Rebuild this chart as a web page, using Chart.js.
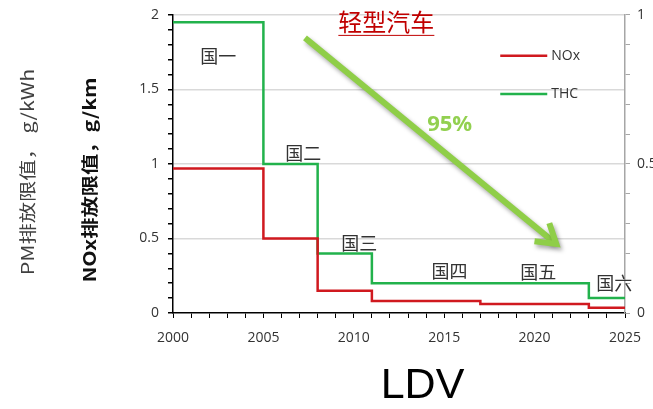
<!DOCTYPE html>
<html>
<head>
<meta charset="utf-8">
<script src="https://cdn.jsdelivr.net/npm/chart.js@4.4.1/dist/chart.umd.min.js"></script>
<style>
  html, body { margin: 0; padding: 0; background: #fff; }
  canvas { display: block; }
</style>
</head>
<body>
<canvas id="c" width="653" height="409"></canvas>
<script>
// Light-duty vehicle emission limits, China stage 1 .. stage 6
const stageYears = [2000, 2005, 2008, 2011, 2017, 2023];
const endYear = 2025;
const noxLimits = [0.97, 0.5, 0.15, 0.08, 0.06, 0.035];
const thcLimits = [1.95, 1.0, 0.4, 0.2, 0.2, 0.1];
const stageNames = ['国一', '国二', '国三', '国四', '国五', '国六'];
const leftTickLabels = [0, 0.5, 1, 1.5, 2];
const rightTickLabels = [0, 0.5, 1];
const yearTickLabels = [2000, 2005, 2010, 2015, 2020, 2025];
const reductionText = '95%';

const RED = '#d0191f';
const GREEN = '#22b24c';
const ARROW_GREEN = '#8fce48';

// Each stage value holds from its start year until the next stage begins
function stepPoints(values) {
  const pts = stageYears.map((yr, i) => ({ x: yr, y: values[i] }));
  pts.push({ x: endYear, y: values[values.length - 1] });
  return pts;
}

const near = (v, list) => list.some(t => Math.abs(v - t) < 1e-6);

// Where the text notes sit, in axis units (year, left-axis value)
const stageNameAnchors = [[2002.5, 1.72], [2007.2, 1.074], [2010.3, 0.47], [2015.3, 0.28], [2020.2, 0.275], [2024.4, 0.2]];
const arrowFrom = [2007.3, 1.846];
const arrowTo = [2021.2, 0.463];

// Rotated title, stretched along its reading direction
function verticalTitle(ctx, text, cx, cy, font, color) {
  ctx.save();
  ctx.translate(cx, cy);
  ctx.rotate(-Math.PI / 2);
  ctx.scale(1.25, 1);
  ctx.font = font;
  ctx.fillStyle = color;
  ctx.textAlign = 'center';
  ctx.textBaseline = 'middle';
  ctx.fillText(text, 0, 0);
  ctx.restore();
}

const notes = {
  id: 'notes',
  afterDraw(chart) {
    const { ctx, scales: { x, y } } = chart;
    const px = v => x.getPixelForValue(v);
    const py = v => y.getPixelForValue(v);
    ctx.save();

    // stage names
    ctx.font = '18px "Noto Sans CJK SC"';
    ctx.fillStyle = '#333';
    ctx.textAlign = 'center';
    ctx.textBaseline = 'middle';
    stageNames.forEach((s, i) => {
      ctx.fillText(s, px(stageNameAnchors[i][0]), py(stageNameAnchors[i][1]));
    });

    // heading with underline
    ctx.font = '24px "Noto Sans CJK SC"';
    ctx.fillStyle = '#c00000';
    const hx = px(2011.8), hy = py(1.953);
    ctx.fillText('轻型汽车', hx, hy);
    const hw = ctx.measureText('轻型汽车').width;
    ctx.strokeStyle = '#c00000';
    ctx.lineWidth = 1;
    ctx.beginPath();
    ctx.moveTo(hx - hw / 2, hy + 13.5);
    ctx.lineTo(hx + hw / 2, hy + 13.5);
    ctx.stroke();

    // reduction arrow
    const x0 = px(arrowFrom[0]), y0 = py(arrowFrom[1]);
    const x1 = px(arrowTo[0]), y1 = py(arrowTo[1]);
    const ang = Math.atan2(y1 - y0, x1 - x0);
    const head = 22, spread = 0.56;
    ctx.shadowColor = 'rgba(0,0,0,0.35)';
    ctx.shadowBlur = 4;
    ctx.shadowOffsetX = 2;
    ctx.shadowOffsetY = 3;
    ctx.strokeStyle = ARROW_GREEN;
    ctx.lineWidth = 6;
    ctx.lineCap = 'butt';
    ctx.lineJoin = 'miter';
    ctx.beginPath();
    ctx.moveTo(x0, y0);
    ctx.lineTo(x1 - 3 * Math.cos(ang), y1 - 3 * Math.sin(ang));
    ctx.stroke();
    ctx.beginPath();
    ctx.moveTo(x1 - head * Math.cos(ang - spread), y1 - head * Math.sin(ang - spread));
    ctx.lineTo(x1, y1);
    ctx.lineTo(x1 - head * Math.cos(ang + spread), y1 - head * Math.sin(ang + spread));
    ctx.stroke();
    ctx.shadowColor = 'transparent';

    // percentage note
    ctx.font = 'bold 22px "Open Sans"';
    ctx.fillStyle = '#92d050';
    ctx.fillText(reductionText, px(2015.3), py(1.262));

    // legend
    const series = chart.data.datasets;
    const lx = px(2018.1);
    [1.725, 1.47].forEach((lv, i) => {
      const ly = py(lv);
      ctx.strokeStyle = series[i].borderColor;
      ctx.lineWidth = 2.5;
      ctx.beginPath();
      ctx.moveTo(lx, ly);
      ctx.lineTo(lx + 47, ly);
      ctx.stroke();
      ctx.font = '14px "Open Sans"';
      ctx.fillStyle = '#333';
      ctx.textAlign = 'left';
      ctx.fillText(series[i].label, lx + 51, ly);
    });

    // axis titles on the left
    verticalTitle(ctx, 'PM排放限值， g/kWh', 28, 172, '17px "Noto Sans CJK SC"', '#404040');
    verticalTitle(ctx, 'NOx排放限值，g/km', 90, 180, 'bold 17px "Noto Sans CJK SC"', '#111');

    // caption under the chart
    ctx.font = '43px "Liberation Sans"';
    ctx.fillStyle = '#000';
    ctx.textAlign = 'center';
    ctx.fillText('LDV', px(2013.8), 386);

    ctx.restore();
  }
};

new Chart(document.getElementById('c'), {
  type: 'line',
  data: {
    datasets: [
      { label: 'NOx', data: stepPoints(noxLimits), borderColor: RED, borderWidth: 2.5, stepped: true, pointRadius: 0, yAxisID: 'y' },
      { label: 'THC', data: stepPoints(thcLimits), borderColor: GREEN, borderWidth: 2.5, stepped: true, pointRadius: 0, yAxisID: 'y' }
    ]
  },
  options: {
    responsive: false,
    animation: false,
    layout: { padding: 0 },
    plugins: { legend: { display: false }, tooltip: { enabled: false } },
    scales: {
      x: {
        type: 'linear', min: 2000, max: 2025,
        afterFit: s => { s.height = 96; },
        ticks: {
          stepSize: 1, autoSkip: false, maxRotation: 0, padding: 7,
          color: '#333', font: { family: 'Open Sans', size: 14, lineHeight: 1.86 },
          callback: v => near(v, yearTickLabels) ? String(Math.round(v)) : ''
        },
        grid: { drawOnChartArea: false, tickColor: '#000', tickLength: 5 },
        border: { color: '#000', width: 1.5 }
      },
      y: {
        position: 'left', min: 0, max: 2,
        afterFit: s => { s.width = 173; },
        ticks: {
          stepSize: 0.1, autoSkip: false, padding: 9,
          color: '#333', font: { family: 'Open Sans', size: 14, lineHeight: 0.84 },
          callback: v => near(v, leftTickLabels) ? String(Math.round(v * 10) / 10) : ''
        },
        grid: {
          color: c => (c.tick && c.tick.value > 0.01 && near(c.tick.value, leftTickLabels)) ? '#d9d9d9' : 'rgba(0,0,0,0)',
          lineWidth: 1.5,
          tickColor: '#000', tickLength: 5
        },
        border: { color: '#000', width: 1.5 }
      },
      y2: {
        position: 'right', min: 0, max: 1,
        afterFit: s => { s.width = 28; },
        ticks: {
          stepSize: 0.1, autoSkip: false, padding: 7,
          color: '#333', font: { family: 'Open Sans', size: 14, lineHeight: 0.84 },
          callback: v => near(v, rightTickLabels) ? String(Math.round(v * 10) / 10) : ''
        },
        grid: { drawOnChartArea: false, tickColor: '#a6a6a6', tickLength: 5 },
        border: { color: '#a6a6a6', width: 1.5 }
      }
    }
  },
  plugins: [notes]
});
</script>
</body>
</html>
